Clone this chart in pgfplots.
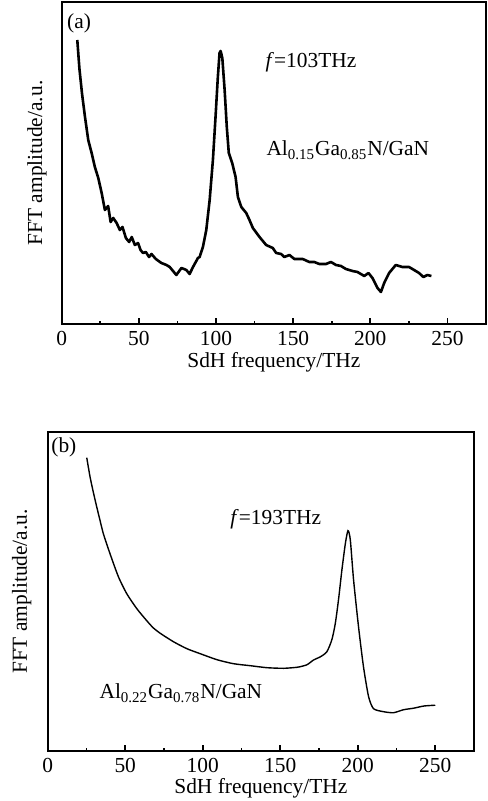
\documentclass[border=0pt]{standalone}
\usepackage{fontspec}
\setmainfont{Liberation Serif}
\usepackage{pgfplots}
\pgfplotsset{compat=1.18}

\pgfplotstableread{
x y
10.1 284
11.5 255
13.2 230
15.1 207
17.2 184
19.4 171
21.5 157
23.7 146
25.9 131
28.0 114
30.1 118
31.7 102
33.4 106
35.6 101
37.7 94
39.4 97
41.6 86
43.7 82
45.4 87
47.4 79
49.5 81
51.1 74
52.7 71
54.5 72
56.6 67
58.2 70
61.0 65
64.6 61
67.9 59
70.0 57
74.3 49
77.6 56
80.8 54
82.9 50
85.1 57
88.3 66
89.4 67
91.5 77
93.7 94
95.9 124
98.0 164
99.7 207
101.2 247
102.3 271
103.0 273
104.1 266
105.6 234
107.0 197
108.3 171
110.5 161
112.7 147
114.2 127
116.4 117
119.6 111
121.7 104
123.9 96
128.2 87
132.5 79
136.8 76
139.0 71
142.2 70
144.3 67
147.6 69
150.8 65
156.2 65
160.5 62
163.7 62
167.0 60
171.3 60
174.5 62
177.8 59
181.0 58
184.2 55
188.5 53
191.7 52
196.1 48
198.8 51
201.4 46
204.7 36
206.9 32
209.0 41
212.2 51
216.5 59
220.8 57
225.1 57
228.4 54
231.6 51
234.4 47
237.0 49
239.6 48
}\dataA

\pgfplotstableread{
x y
25.2 293
27.3 274
29.5 258
31.6 244
33.8 230
35.9 217
40.2 197
45.6 174
51.0 157
57.5 142
63.9 130
68.0 123
72.5 117.5
81.1 109
89.8 102
98.4 97
109.2 91
119.9 87
130.7 85
141.5 83
152.2 82.4
160.8 83.4
162.9 84
167.3 86
171.5 90.7
176.0 94
180.1 99
183.3 111
185.5 127
187.6 151
189.8 181
192.0 207
193.7 220
195.2 211
197.3 171
200.5 124
203.7 84
207.0 54
210.2 42
216.7 39
223.1 38
229.6 41
236.0 42.5
242.7 44.7
250.0 45.5
}\dataB

\pgfplotsset{
  panel/.style={
    scale only axis,
    xmin=0, xmax=275, ymin=0,
    xtick={0,50,...,250},
    minor xtick={25,75,...,225},
    ytick=\empty,
    xtick pos=left,
    tick align=inside,
    major tick length=3pt,
    minor tick length=1.6pt,
    every tick/.style={black, line width=0.8pt},
    axis line style={black, line width=1.1pt},
    /pgf/number format/assume math mode=true,
    xlabel={SdH frequency/THz},
    ylabel={FFT amplitude/a.u.},
  }
}

\begin{document}
\fontsize{10.7}{12.8}\selectfont
\begin{tikzpicture}
\useasboundingbox (0,0) rectangle (243.5pt,-400.5pt);

\begin{axis}[panel,
  at={(30.85pt,-162pt)}, anchor=south west,
  width=212.15pt, height=161pt, ymax=322,
  xlabel style={at={(axis description cs:0.5,0)}, anchor=center, yshift=-19.2pt},
  ylabel style={at={(axis description cs:-0.058,0.5)}, anchor=center, rotate=0},
]
\addplot[black, line width=1.3pt, line join=round] table[x=x,y=y] {\dataA};
\node[anchor=center] at (rel axis cs:0.041,0.935) {(a)};
\node[anchor=west] at (rel axis cs:0.463,0.814) {\textit{f}=103THz};
\node[anchor=west] at (rel axis cs:0.465,0.540) {Al\textsubscript{0.15}Ga\textsubscript{0.85}N/GaN};
\end{axis}

\begin{axis}[panel,
  at={(23.85pt,-375.35pt)}, anchor=south west,
  width=213.15pt, height=159.2pt, ymax=318.4,
  xlabel style={at={(axis description cs:0.5,0)}, anchor=center, yshift=-18.9pt},
  ylabel style={at={(axis description cs:-0.061,0.5)}, anchor=center, rotate=0},
]
\addplot[black, line width=0.7pt, smooth, tension=0.4] table[x=x,y=y] {\dataB};
\node[anchor=center] at (rel axis cs:0.038,0.954) {(b)};
\node[anchor=west] at (rel axis cs:0.411,0.728) {\textit{f}=193THz};
\node[anchor=west] at (rel axis cs:0.104,0.181) {Al\textsubscript{0.22}Ga\textsubscript{0.78}N/GaN};
\end{axis}
\end{tikzpicture}
\end{document}
